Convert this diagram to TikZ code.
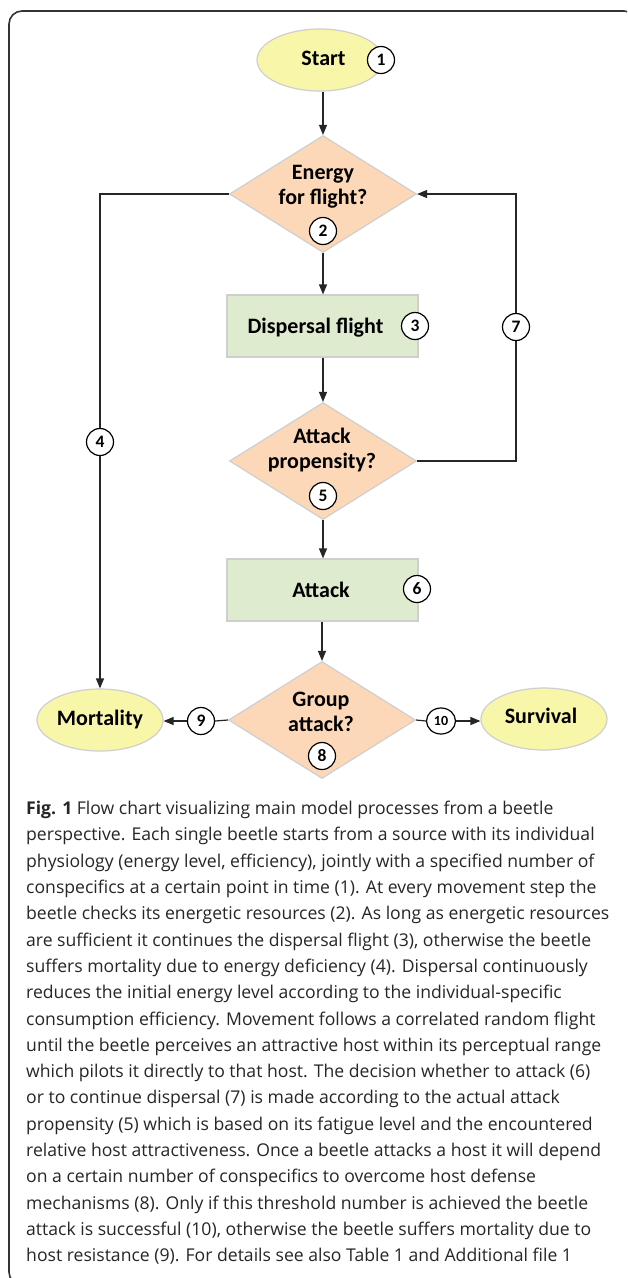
\documentclass[tikz,border=0pt]{standalone}
\usepackage{fontspec}
\setmainfont{Open Sans}
\newfontfamily\diafont{Carlito}
\usetikzlibrary{shapes.geometric,arrows.meta}
\definecolor{ellfill}{HTML}{F8F6A8}
\definecolor{diafill}{HTML}{FCD8B8}
\definecolor{boxfill}{HTML}{DEEBCF}
\definecolor{shapeborder}{HTML}{CFCFCF}
\definecolor{captext}{HTML}{262626}
\tikzset{
  term/.style={ellipse, draw=shapeborder, line width=1.2pt, fill=ellfill, minimum width=126pt, minimum height=62pt, inner sep=0pt},
  procbox/.style={rectangle, draw=shapeborder, line width=1.2pt, fill=boxfill, minimum width=191pt, minimum height=62pt, inner sep=0pt},
  decision/.style={diamond, draw=shapeborder, line width=1.2pt, fill=diafill, minimum width=187pt, minimum height=117pt, inner sep=0pt},
  num/.style={circle, draw=black, line width=1.2pt, fill=white, minimum size=27pt, inner sep=0pt, font=\diafont\bfseries\fontsize{17.5}{17.5}\selectfont},
  numwide/.style={ellipse, draw=black, line width=1.2pt, fill=white, minimum width=29pt, minimum height=26pt, inner sep=0pt, font=\diafont\bfseries\fontsize{14}{14}\selectfont},
  lbl/.style={font=\diafont\bfseries\fontsize{22}{25}\selectfont, align=center, inner sep=0pt, anchor=base},
  conn/.style={line width=1.2pt, draw=black!85},
  arr/.style={conn, -{Triangle[length=10pt,width=8pt]}}
}
\begin{document}
\begin{tikzpicture}[x=1pt,y=-1pt]
\useasboundingbox (0,0) rectangle (627,1278);
\clip (0,0) rectangle (627,1278);
\fill[white] (0,0) rectangle (627,1278);
% frame
\draw[line width=1.6pt, black!80, rounded corners=13pt] (9,11) rectangle (637,1285);

% shapes
\node[term] (start) at (320,60) {};
\node[lbl] (starttxt) at (323.5,65) {Start};
\node[decision] (d1) at (323,194) {};
\node[lbl] (d1txt) at (323,204) {Energy\\for flight?};
\node[procbox] (b1) at (322.5,326) {};
\node[lbl] (b1txt) at (315.5,333) {Dispersal flight};
\node[decision] (d2) at (323,461) {};
\node[lbl] (d2txt) at (322,468) {Attack\\propensity?};
\node[procbox] (b2) at (322.5,590) {};
\node[lbl] (b2txt) at (321,597) {Attack};
\node[decision] (d3) at (322,720) {};
\node[lbl] (d3txt) at (321,731) {Group\\attack?};
\node[term] (mort) at (100,720) {};
\node[lbl] (morttxt) at (100,725) {Mortality};
\node[term] (surv) at (544,719) {};
\node[lbl] (survtxt) at (541,723) {Survival};

% number markers on shapes
\node[num] (c1) at (381,60) {1};
\node[num] (c2) at (323,231) {2};
\node[num] (c3) at (415,326) {3};
\node[num] (c5) at (323,496) {5};
\node[num] (c6) at (417,589) {6};
\node[num] (c8) at (322,756) {8};
\node[num] (c9) at (201,721) {9};
\node[numwide] (c10) at (441,721) {10};

% connectors
\coordinate (lft) at (100,0);
\coordinate (rgt) at (516,0);
\draw[arr] (start.south -| d1.north) -- (d1.north);
\draw[arr] (d1.south) -- (d1.south |- b1.north);
\draw[arr] (b1.south -| d2.north) -- (d2.north);
\draw[arr] (d2.south) -- (d2.south |- b2.north);
\draw[arr] (b2.south -| d3.north) -- (d3.north);
\draw[arr] (d1.west) -- (d1.west -| lft) -- (mort.north);
\draw[arr] (d2.east) -- (d2.east -| rgt) -- (d1.east -| rgt) -- (d1.east);
\draw[conn] (d3.west) -- (c9.east);
\draw[arr] (c9.west) -- (mort.east |- c9.west);
\draw[conn] (d3.east) -- (c10.west);
\draw[arr] (c10.east) -- (surv.west |- c10.east);

% markers on connectors
\node[num] (c4) at (100,442) {4};
\node[num] (c7) at (516,327) {7};

% caption
\node[anchor=north west, align=left, inner sep=0pt, text=captext, font=\fontsize{17.6}{26.3}\selectfont] (cap) at (26,801) {%
\textbf{Fig. 1} Flow chart visualizing main model processes from a beetle\\
perspective. Each single beetle starts from a source with its individual\\
physiology (energy level, efficiency), jointly with a specified number of\\
conspecifics at a certain point in time (1). At every movement step the\\
beetle checks its energetic resources (2). As long as energetic resources\\
are sufficient it continues the dispersal flight (3), otherwise the beetle\\
suffers mortality due to energy deficiency (4). Dispersal continuously\\
reduces the initial energy level according to the individual-specific\\
consumption efficiency. Movement follows a correlated random flight\\
until the beetle perceives an attractive host within its perceptual range\\
which pilots it directly to that host. The decision whether to attack (6)\\
or to continue dispersal (7) is made according to the actual attack\\
propensity (5) which is based on its fatigue level and the encountered\\
relative host attractiveness. Once a beetle attacks a host it will depend\\
on a certain number of conspecifics to overcome host defense\\
mechanisms (8). Only if this threshold number is achieved the beetle\\
attack is successful (10), otherwise the beetle suffers mortality due to\\
host resistance (9). For details see also Table 1 and Additional file 1};
\end{tikzpicture}
\end{document}
